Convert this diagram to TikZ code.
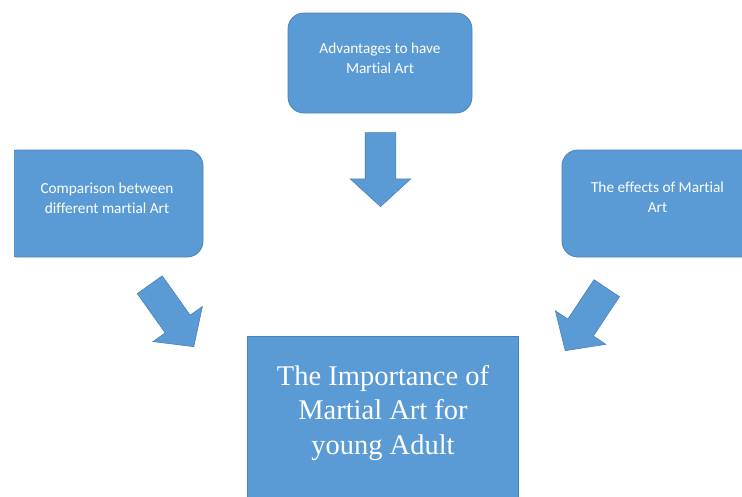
\documentclass[tikz,border=0pt]{standalone}
\usepackage{fontspec}
\usepackage{tikz}
\usetikzlibrary{shapes.arrows}
\newfontfamily\kastenschrift[Ligatures=NoCommon]{Carlito}
\newfontfamily\titelschrift{Liberation Serif}
\definecolor{kastenblau}{HTML}{5B9BD5}
\definecolor{randblau}{HTML}{4A80B8}

\begin{document}
\begin{tikzpicture}[
    x=1pt, y=-1pt,
    kasten/.style={
      rectangle,
      rounded corners=16pt,
      fill=kastenblau,
      draw=randblau,
      line width=.8pt,
      inner sep=0pt},
    beschriftung/.style={
      text=white,
      align=center,
      font=\kastenschrift\fontsize{15.3}{20}\selectfont},
    pfeil/.style={
      single arrow,
      fill=kastenblau,
      draw=randblau,
      line width=.6pt,
      inner xsep=0pt,
      inner ysep=15pt,
      single arrow head extend=15pt,
      single arrow tip angle=95,
      anchor=tip}
    ]

  \useasboundingbox (0,0) rectangle (742,496);
  \clip (0,0) rectangle (742,496);

  % Kaesten
  \node at (380,63) (vorteilekasten) [kasten, minimum width=184pt, minimum height=100pt] {};
\begin{scope}
  \clip (14,0) rectangle (742,496);
  \node at (102.5,203.5) (vergleichkasten) [kasten, minimum width=201pt, minimum height=107pt] {};
\end{scope}
\node at (661,203.5) (wirkungkasten) [kasten, minimum width=198pt, minimum height=107pt] {};
\node at (382.5,428) (bedeutungkasten) [kasten, sharp corners, minimum width=271pt, minimum height=184pt] {};

  % Texte
  \node at (380,58) (vorteile) [beschriftung] {Advantages to have\\Martial Art};
\node at (107,198) (vergleich) [beschriftung] {Comparison between\\different martial Art};
\node at (657.5,197.5) (wirkung) [beschriftung] {The effects of Martial\\Art};
\node at (383,413) (bedeutung) [beschriftung, font=\titelschrift\fontsize{28.5}{34.5}\selectfont] {The Importance of\\Martial Art for\\young Adult};

  % Pfeile (Spitze gesetzt)
  \node at (380.5,207) (pfeil0) [pfeil, minimum height=74pt, rotate=-90] {};
\node at (194,347) (pfeil1) [pfeil, minimum height=76pt, rotate=-54.6] {};
\node at (565,351) (pfeil2) [pfeil, minimum height=75pt, rotate=-123.6] {};

\end{tikzpicture}
\end{document}
